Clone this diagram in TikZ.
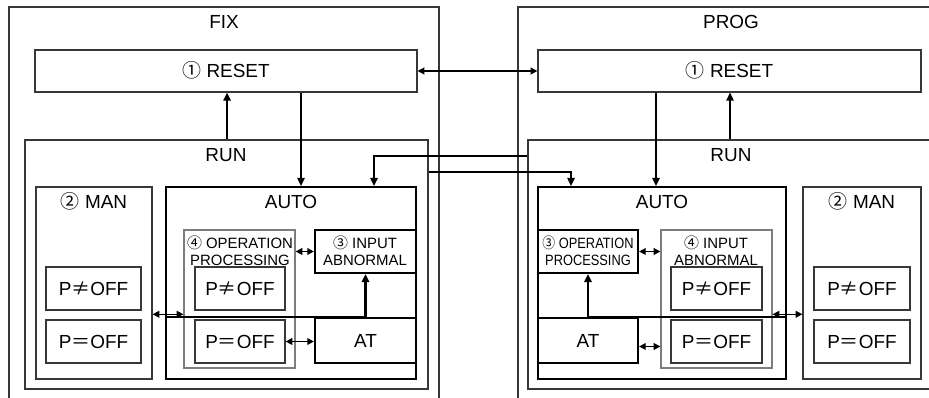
\documentclass[tikz,border=0pt]{standalone}
\usepackage{fontspec}
\usepackage{graphicx}
\setmainfont{Liberation Sans}
\newfontfamily\jp{Noto Sans CJK JP}
\usetikzlibrary{arrows.meta, positioning, fit, calc}
\definecolor{framegray}{RGB}{55,55,55}
\definecolor{boxgray}{RGB}{125,125,125}
\tikzset{
    frame/.style={rectangle, draw=framegray, line width=0.9pt, inner sep=0pt},
    box/.style={rectangle, draw=framegray, line width=0.9pt, inner sep=0pt},
    boldbox/.style={rectangle, draw=black, line width=1.6pt, inner sep=0pt},
    greybox/.style={rectangle, draw=boxgray, line width=0.9pt, inner sep=0pt},
    title/.style={inner sep=0pt, text height=10.2pt, text depth=0pt, font=\fontsize{14.2}{16}\selectfont},
    small/.style={inner sep=0pt, align=center, font=\fontsize{11.2}{12.8}\selectfont},
    arr/.style={-{Triangle[length=6pt,width=5.5pt]}, line width=1.2pt},
    dbl/.style={{Triangle[length=5pt,width=5pt]}-{Triangle[length=5pt,width=5pt]}, line width=1.1pt},
    bus/.style={-{Triangle[length=6pt,width=5.5pt]}, line width=2.1pt}
}
\newcommand{\pnotoff}{P{\jp ≠}OFF}
\newcommand{\pisoff}{P{\jp ＝}OFF}
\newcommand{\narrow}[1]{\scalebox{0.86}[1]{#1}}

\begin{document}
\begin{tikzpicture}[x=0.75pt, y=-0.75pt]

    \useasboundingbox (0,0) rectangle (929,398);
    \clip (0,0) rectangle (929,398);

    % FIX side
    \node[frame, fit={(9,7) (439,420)}] (fix) {};
    \node[title] (fixlbl) at (224,22) {FIX};
    \node[box, fit={(35,50) (417,92)}, label={[title]center:{\jp ①} RESET}] (fixreset) {};
    \node[frame, fit={(25,140) (428,389)}] (fixrun) {};
    \node[title] (fixrunlbl) at (226,155) {RUN};

    \node[box, fit={(36,187) (152,379)}] (fixman) {};
    \node[title] (fixmanlbl) at (94,202) {{\jp ②} MAN};
    \node[box, fit={(46,267) (141,310)}, label={[title]center:\pnotoff}] (fixmanne) {};
    \node[box, fit={(46,320) (141,363)}, label={[title]center:\pisoff}] (fixmaneq) {};

    \node[boldbox, fit={(166,187) (416,379)}] (fixauto) {};
    \node[title] (fixautolbl) at (291,202) {AUTO};
    \node[greybox, fit={(184,230) (295,368)}] (fixop) {};
    \node[small] (fixoplbl) at (240,251) {{\jp ④} OPERATION\\PROCESSING};
    \node[box, fit={(195,267) (285,310)}, label={[title]center:\pnotoff}] (fixopne) {};
    \node[box, fit={(195,320) (285,363)}, label={[title]center:\pisoff}] (fixopeq) {};
    \node[boldbox, fit={(315,230) (416,273)}] (fixinput) {};
    \node[small] (fixinputlbl) at (365,251) {{\jp ③} INPUT\\ABNORMAL};
    \node[boldbox, fit={(315,318) (416,363)}, label={[title]center:AT}] (fixat) {};

    % PROG side
    \node[frame, fit={(518,7) (948,420)}] (prog) {};
    \node[title] (proglbl) at (731,22) {PROG};
    \node[box, fit={(538,50) (921,92)}, label={[title]center:{\jp ①} RESET}] (progreset) {};
    \node[frame, fit={(528,140) (938,389)}] (progrun) {};
    \node[title] (progrunlbl) at (731,155) {RUN};

    \node[boldbox, fit={(538,187) (786,379)}] (progauto) {};
    \node[title] (progautolbl) at (662,202) {AUTO};
    \node[boldbox, fit={(538,230) (638,273)}] (progop) {};
    \node[small] (progoplbl) at (588,251) {\narrow{{\jp ③} OPERATION}\\\narrow{PROCESSING}};
    \node[greybox, fit={(661,230) (772,368)}] (progin) {};
    \node[small] (proginlbl) at (716,251) {{\jp ④} INPUT\\ABNORMAL};
    \node[box, fit={(671,267) (762,310)}, label={[title]center:\pnotoff}] (proginne) {};
    \node[box, fit={(671,320) (762,363)}, label={[title]center:\pisoff}] (progineq) {};
    \node[boldbox, fit={(538,318) (638,363)}, label={[title]center:AT}] (progat) {};

    \node[box, fit={(803,187) (921,379)}] (progman) {};
    \node[title] (progmanlbl) at (862,202) {{\jp ②} MAN};
    \node[box, fit={(814,267) (910,310)}, label={[title]center:\pnotoff}] (progmanne) {};
    \node[box, fit={(814,320) (910,363)}, label={[title]center:\pisoff}] (progmaneq) {};

    \coordinate (crossa) at (374,156);
    \coordinate (crossb) at (571,172);

    % connectors
    \draw[dbl] (fixreset.east) -- (progreset.west);
    \draw[arr] ([xshift=0.4pt]fixrun.north) -- ([xshift=0.4pt]fixrun.north |- fixreset.south);
    \draw[arr] ([xshift=7.5pt]fixauto.north |- fixreset.south) -- ([xshift=7.5pt]fixauto.north);
    \draw[arr] ([xshift=-4.5pt]progauto.north |- progreset.south) -- ([xshift=-4.5pt]progauto.north);
    \draw[arr] ([xshift=-2.25pt]progrun.north) -- ([xshift=-2.25pt]progrun.north |- progreset.south);
    \draw[arr] (progrun.west |- crossa) -| (fixauto.north -| crossa);
    \draw[arr] (fixrun.east |- crossb) -| (progauto.north -| crossb);

    \draw[bus] (fixauto.west |- fixat.north) -| (fixinput.south);
    \draw[bus] (progauto.east |- progat.north) -| (progop.south);

    \draw[dbl] ([yshift=2pt]fixman.east |- fixat.north) -- ([yshift=2pt]fixop.west |- fixat.north);
    \draw[dbl] (fixop.east |- fixinput.west) -- (fixinput.west);
    \draw[dbl] (fixopeq.east) -- (fixat.west |- fixopeq.east);
    \draw[dbl] (progop.east) -- (progin.west |- progop.east);
    \draw[dbl] ([yshift=-4.5pt]progat.east) -- ([yshift=-4.5pt]progin.west |- progat.east);
    \draw[dbl] ([yshift=2pt]progin.east |- progat.north) -- ([yshift=2pt]progman.west |- progat.north);

\end{tikzpicture}
\end{document}
